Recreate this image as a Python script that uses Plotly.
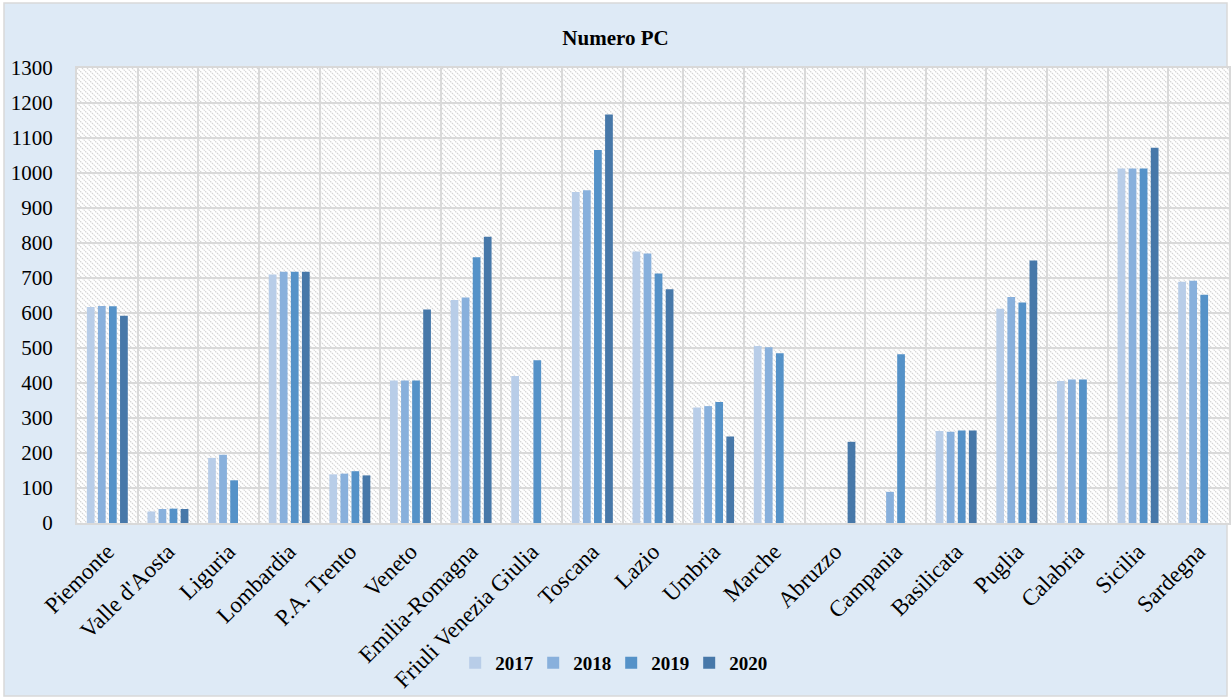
import base64
import plotly.graph_objects as go

# Regions (x categories)
regioni = [
    "Piemonte", "Valle d'Aosta", "Liguria", "Lombardia", "P.A. Trento", "Veneto",
    "Emilia-Romagna", "Friuli Venezia Giulia", "Toscana", "Lazio", "Umbria",
    "Marche", "Abruzzo", "Campania", "Basilicata", "Puglia", "Calabria",
    "Sicilia", "Sardegna",
]

# Number of PCs per region and year (None = not available)
pc_2017 = [617, 33, 186, 710, 139, 407, 637, 420, 946, 776, 330, 506, None, None, 263, 612, 406, 1013, 689]
pc_2018 = [620, 40, 195, 718, 141, 407, 644, None, 951, 770, 334, 502, None, 89, 261, 646, 410, 1013, 692]
pc_2019 = [619, 41, 122, 718, 148, 407, 759, 465, 1066, 713, 346, 485, None, 482, 264, 630, 410, 1013, 652]
pc_2020 = [592, 40, None, 718, 136, 610, 818, None, 1167, 668, 247, None, 232, None, 264, 750, None, 1072, None]

anni = ["2017", "2018", "2019", "2020"]
serie = [pc_2017, pc_2018, pc_2019, pc_2020]
colori = ["#B8CDE8", "#88B0DC", "#5592C8", "#4778A9"]

y_ticks = list(range(0, 1301, 100))

W, H = 1231, 699
M_L, M_R, M_T, M_B = 77, 2, 68, 176
PW, PH = W - M_L - M_R, H - M_T - M_B

FONT = "Liberation Serif, Times New Roman, serif"

# diagonal hatch used as the plot-area background
hatch_svg = f"""<svg xmlns='http://www.w3.org/2000/svg' width='{PW}' height='{PH}' viewBox='0 0 {PW} {PH}' preserveAspectRatio='none'>
<defs><pattern id='h' patternUnits='userSpaceOnUse' width='5' height='5'>
<rect width='5' height='5' fill='#FFFFFF'/>
<path d='M0,0 L5,5 M-1,4 L1,6 M4,-1 L6,1' stroke='#D2D2D2' stroke-width='1.1' stroke-dasharray='1.5,0.8'/>
</pattern></defs>
<rect width='{PW}' height='{PH}' fill='url(#h)'/></svg>"""
hatch_uri = "data:image/svg+xml;base64," + base64.b64encode(hatch_svg.encode()).decode()

fig = go.Figure()
for anno, valori, col in zip(anni, serie, colori):
    fig.add_trace(go.Bar(
        name=anno, x=regioni, y=valori,
        marker=dict(color=col, line=dict(width=0)),
    ))

fig.update_layout(
    width=W, height=H,
    margin=dict(l=M_L, r=M_R, t=M_T, b=M_B, autoexpand=False),
    paper_bgcolor="#FFFFFF",
    plot_bgcolor="#FFFFFF",
    barmode="group",
    bargap=0.27,
    bargroupgap=0.3,
    font=dict(family=FONT, color="#000000", size=21),
    title=dict(
        text="<b>Numero PC</b>", x=0.5, xref="container",
        y=1 - 38 / H, yref="container", yanchor="middle", xanchor="center",
        font=dict(family=FONT, size=21, color="#000000"),
    ),
    showlegend=True,
    legend=dict(
        orientation="h", xref="container", yref="container",
        x=0.4965, y=1 - 663 / H, xanchor="center", yanchor="middle",
        font=dict(family=FONT, size=19, color="#000000", weight="bold"),
        bgcolor="rgba(0,0,0,0)", entrywidth=33, tracegroupgap=0,
    ),
    xaxis=dict(
        type="category", tickangle=-45, tickson="boundaries",
        showgrid=True, gridcolor="#D9D9D9", gridwidth=2,
        showline=True, linecolor="#D9D9D9", linewidth=2, mirror=True,
        ticks="", ticklabelstandoff=4, automargin=False,
        tickfont=dict(family=FONT, size=23, color="#000000"),
    ),
    yaxis=dict(
        range=[0, 1300], tickvals=y_ticks,
        showgrid=True, gridcolor="#D9D9D9", gridwidth=2,
        showline=True, linecolor="#D9D9D9", linewidth=2, mirror=True,
        zeroline=False, ticks="", ticklabelstandoff=18, automargin=False,
        tickfont=dict(family=FONT, size=21, color="#000000"),
    ),
    images=[dict(
        source=hatch_uri, xref="x domain", yref="y domain", x=0, y=1,
        sizex=1, sizey=1, xanchor="left", yanchor="top",
        sizing="stretch", layer="below",
    )],
    shapes=[dict(
        type="rect", xref="paper", yref="paper", layer="below",
        x0=(4 - M_L) / PW, x1=(1227 - M_L) / PW,
        y0=(H - M_B - 696) / PH, y1=(H - M_B - 3) / PH,
        fillcolor="#DEEAF6", line=dict(color="#D9D9D9", width=1.5),
    )],
)

fig.write_html("out.html")
